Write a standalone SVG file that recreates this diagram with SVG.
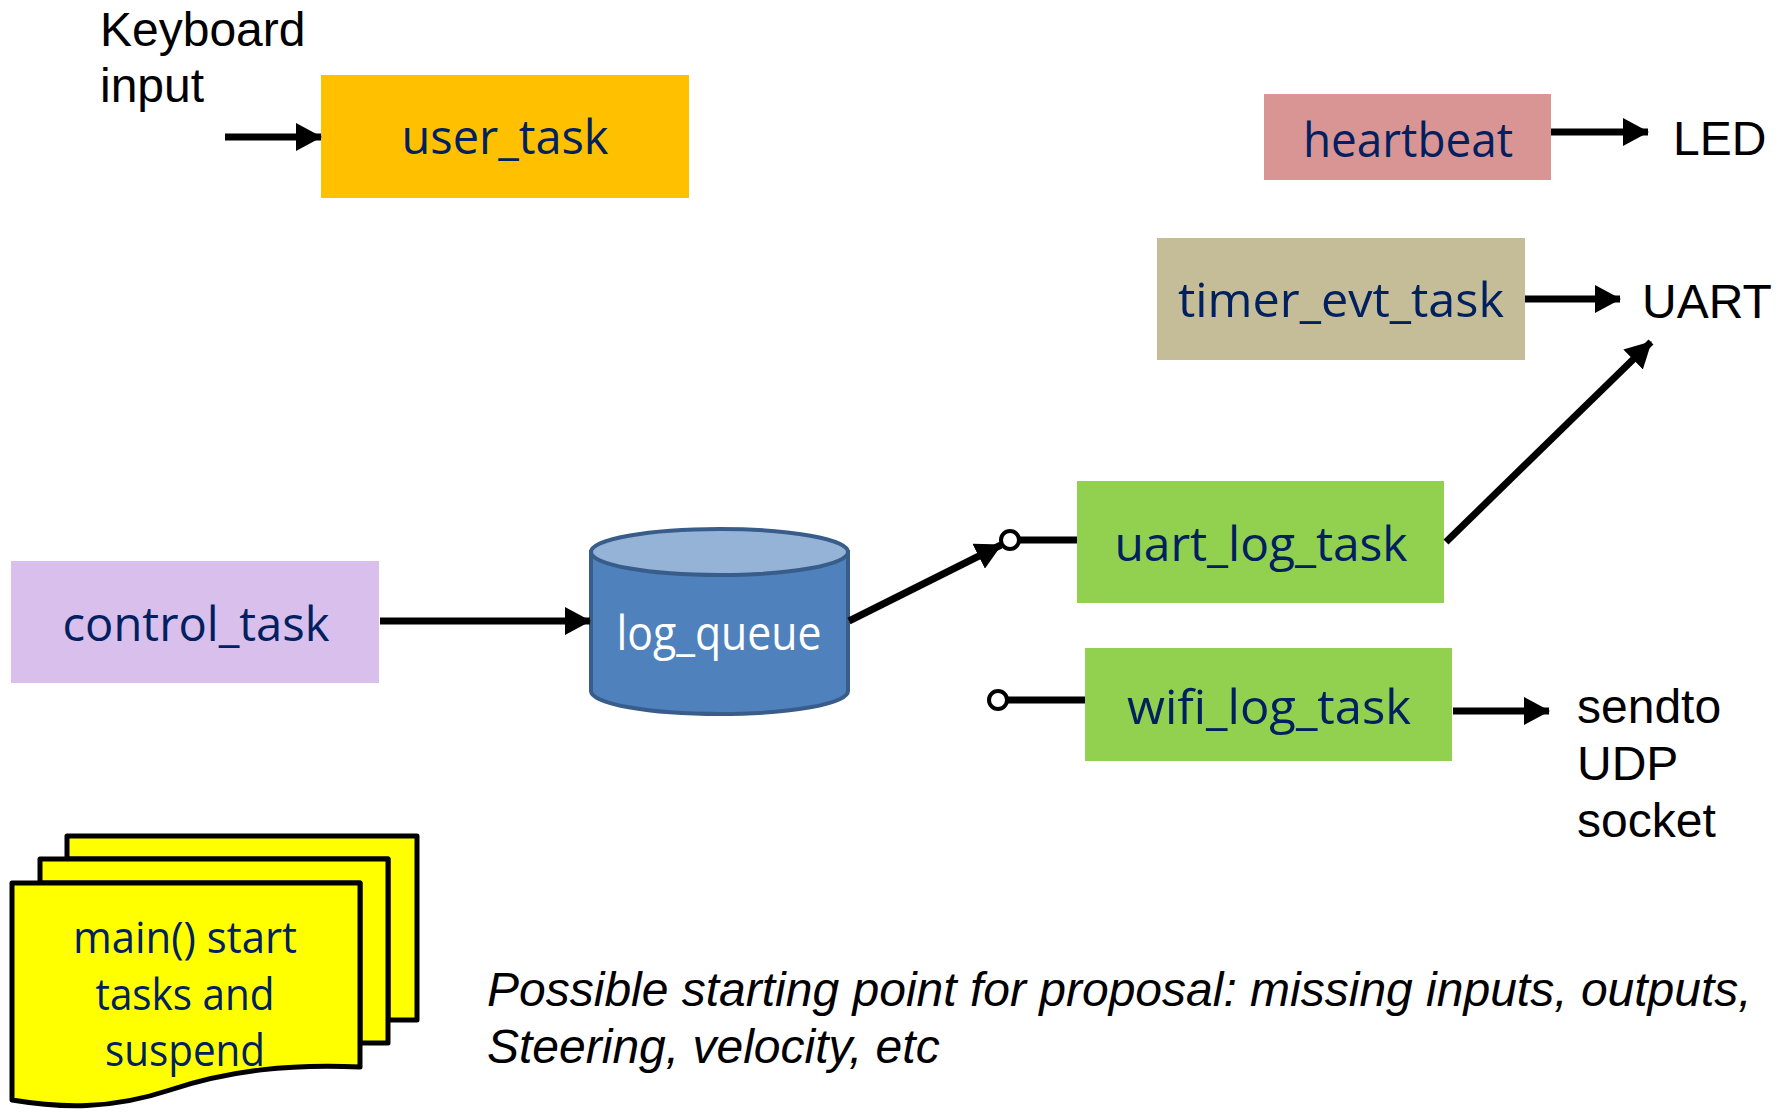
<svg xmlns="http://www.w3.org/2000/svg" width="1783" height="1112" viewBox="0 0 1783 1112">
<style>
.lbl{font-family:"Open Sans","Noto Sans",sans-serif;font-size:48px;fill:#002060;text-anchor:middle}
.ext{font-family:"Liberation Sans",Arial,sans-serif;font-size:48px;fill:#000}
.conn{stroke:#000;stroke-width:7;fill:none}
.doc{fill:#ffff00;stroke:#000;stroke-width:5;stroke-linejoin:round}
</style>
<defs>
<marker id="ah" markerUnits="userSpaceOnUse" markerWidth="26" markerHeight="28" refX="25" refY="14" orient="auto">
<path d="M0,0 L26,14 L0,28 z" fill="#000"/>
</marker>
</defs>
<rect width="1783" height="1112" fill="#fff"/>

<g id="keyboard-input">
<text class="ext" x="100" y="46">Keyboard</text>
<text class="ext" x="100" y="102">input</text>
</g>

<g id="user_task">
<rect x="321" y="75" width="368" height="123" fill="#ffc000"/>
<text class="lbl" x="505" y="154" textLength="207" lengthAdjust="spacingAndGlyphs">user_task</text>
</g>

<g id="heartbeat">
<rect x="1264" y="94" width="287" height="86" fill="#d99594"/>
<text class="lbl" x="1408" y="157" textLength="210" lengthAdjust="spacingAndGlyphs">heartbeat</text>
</g>

<g id="led">
<text class="ext" x="1673" y="155">LED</text>
</g>

<g id="timer_evt_task">
<rect x="1157" y="238" width="368" height="122" fill="#c4bd97"/>
<text class="lbl" x="1341" y="317" textLength="326" lengthAdjust="spacingAndGlyphs">timer_evt_task</text>
</g>

<g id="uart">
<text class="ext" x="1642" y="318">UART</text>
</g>

<g id="control_task">
<rect x="11" y="561" width="368" height="122" fill="#d9bfec"/>
<text class="lbl" x="196" y="641" textLength="267" lengthAdjust="spacingAndGlyphs">control_task</text>
</g>

<g id="log_queue">
<path d="M591,552 L591,691 A128.5,23 0 0 0 848,691 L848,552 Z" fill="#4f81bd" stroke="#385d8a" stroke-width="4"/>
<ellipse cx="719.5" cy="552" rx="128.5" ry="23" fill="#95b3d7" stroke="#385d8a" stroke-width="4"/>
<text class="lbl" x="719" y="650" style="fill:#fff" textLength="205" lengthAdjust="spacingAndGlyphs">log_queue</text>
</g>

<g id="uart_log_task">
<rect x="1077" y="481" width="367" height="122" fill="#92d050"/>
<text class="lbl" x="1261" y="561" textLength="293" lengthAdjust="spacingAndGlyphs">uart_log_task</text>
</g>

<g id="wifi_log_task">
<rect x="1085" y="648" width="367" height="113" fill="#92d050"/>
<text class="lbl" x="1269" y="724" textLength="284" lengthAdjust="spacingAndGlyphs">wifi_log_task</text>
</g>

<g id="sendto-udp-socket">
<text class="ext" x="1577" y="723">sendto</text>
<text class="ext" x="1577" y="780">UDP</text>
<text class="ext" x="1577" y="837">socket</text>
</g>

<g id="main">
<path class="doc" d="M67,836 L417,836 L417,1020 L388,1020 L388,859 L67,859 Z"/>
<path class="doc" d="M40,859 L388,859 L388,1043 L360,1043 L360,883 L40,883 Z"/>
<path class="doc" d="M12,883 L360,883 L360,1067 C 290,1064 230,1070 170,1090 C 110,1110 60,1108 12,1100 Z"/>
<text class="lbl" x="185" y="953" style="font-size:43px" textLength="224" lengthAdjust="spacingAndGlyphs">main() start</text>
<text class="lbl" x="185" y="1010" style="font-size:43px" textLength="179" lengthAdjust="spacingAndGlyphs">tasks and</text>
<text class="lbl" x="185" y="1066" style="font-size:43px" textLength="160" lengthAdjust="spacingAndGlyphs">suspend</text>
</g>

<g id="note">
<text class="ext" x="487" y="1006" font-style="italic">Possible starting point for proposal: missing inputs, outputs,</text>
<text class="ext" x="487" y="1063" font-style="italic">Steering, velocity, etc</text>
</g>

<g id="connectors">
<line class="conn" x1="225" y1="137" x2="321" y2="137" marker-end="url(#ah)"/>
<line class="conn" x1="1551" y1="132" x2="1648" y2="132" marker-end="url(#ah)"/>
<line class="conn" x1="1525" y1="299" x2="1620" y2="299" marker-end="url(#ah)"/>
<line class="conn" x1="1446" y1="542" x2="1651" y2="342" marker-end="url(#ah)"/>
<line class="conn" x1="380" y1="621" x2="590" y2="621" marker-end="url(#ah)"/>
<line class="conn" x1="849" y1="621" x2="1001" y2="545" marker-end="url(#ah)"/>
<line class="conn" x1="1019" y1="540" x2="1077" y2="540"/>
<circle cx="1010" cy="540" r="9" fill="#fff" stroke="#000" stroke-width="4"/>
<line class="conn" x1="1007" y1="700" x2="1085" y2="700"/>
<circle cx="998" cy="700" r="9" fill="#fff" stroke="#000" stroke-width="4"/>
<line class="conn" x1="1453" y1="711" x2="1549" y2="711" marker-end="url(#ah)"/>
</g>
</svg>
